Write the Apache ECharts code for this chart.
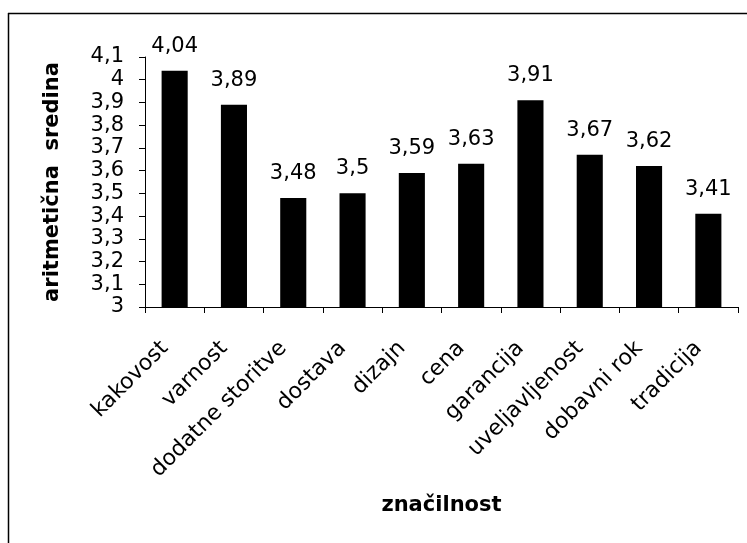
<!DOCTYPE html>
<html>
<head>
<meta charset="utf-8">
<script src="https://cdn.jsdelivr.net/npm/echarts@6/dist/echarts.min.js"></script>
<style>
  html, body { margin: 0; padding: 0; background: #fff; }
  #chart { width: 747px; height: 543px; }
</style>
</head>
<body>
<div id="chart"></div>
<script>
// podatki
const categories = ['kakovost', 'varnost', 'dodatne storitve', 'dostava', 'dizajn', 'cena',
  'garancija', 'uveljavljenost', 'dobavni rok', 'tradicija'];
const means = [4.04, 3.89, 3.48, 3.5, 3.59, 3.63, 3.91, 3.67, 3.62, 3.41];

const FONT = '"DejaVu Sans", sans-serif';

// decimalna vejica
function comma(v) {
  const r = Math.round(v * 100) / 100;
  return String(r).replace('.', ',');
}

const chart = echarts.init(document.getElementById('chart'));

const option = {
  animation: false,
  backgroundColor: '#fff',
  textStyle: { fontFamily: FONT, color: '#000' },
  graphic: [
    { type: 'line', shape: { x1: 8, y1: 13.5, x2: 747, y2: 13.5 }, style: { stroke: '#000', lineWidth: 1.5 } },
    { type: 'line', shape: { x1: 8.5, y1: 13, x2: 8.5, y2: 543 }, style: { stroke: '#000', lineWidth: 1.5 } }
  ],
  grid: { left: 145, right: 9, top: 57, bottom: 236 },
  xAxis: {
    type: 'category',
    data: categories,
    name: 'značilnost',
    nameLocation: 'middle',
    nameGap: 188,
    nameTextStyle: { fontFamily: FONT, fontSize: 21, fontWeight: 'bold', color: '#000' },
    axisLine: { lineStyle: { color: '#000', width: 1 } },
    axisTick: { show: true, length: 6, alignWithLabel: false, lineStyle: { color: '#000' } },
    axisLabel: {
      rotate: 45,
      margin: 28,
      interval: 0,
      padding: [0, 14, 0, 0],
      fontFamily: FONT,
      fontSize: 22,
      color: '#000'
    }
  },
  yAxis: {
    type: 'value',
    min: 3,
    max: 4.1,
    interval: 0.1,
    name: 'aritmetična  sredina',
    nameLocation: 'middle',
    nameGap: 82,
    nameTextStyle: { fontFamily: FONT, fontSize: 21, fontWeight: 'bold', color: '#000' },
    axisLine: { show: true, lineStyle: { color: '#000', width: 1 } },
    axisTick: { show: true, length: 6, lineStyle: { color: '#000' } },
    splitLine: { show: false },
    axisLabel: {
      margin: 21,
      fontFamily: FONT,
      fontSize: 21,
      color: '#000',
      lineHeight: 20,
      formatter: function (v) { return comma(Math.round(v * 10) / 10); }
    }
  },
  series: [{
    type: 'bar',
    data: means,
    barWidth: '44%',
    itemStyle: { color: '#000' },
    label: {
      show: true,
      position: 'top',
      distance: 14,
      fontFamily: FONT,
      fontSize: 21,
      color: '#000',
      formatter: function (p) { return comma(p.value); }
    }
  }]
};

chart.setOption(option);
</script>
</body>
</html>
